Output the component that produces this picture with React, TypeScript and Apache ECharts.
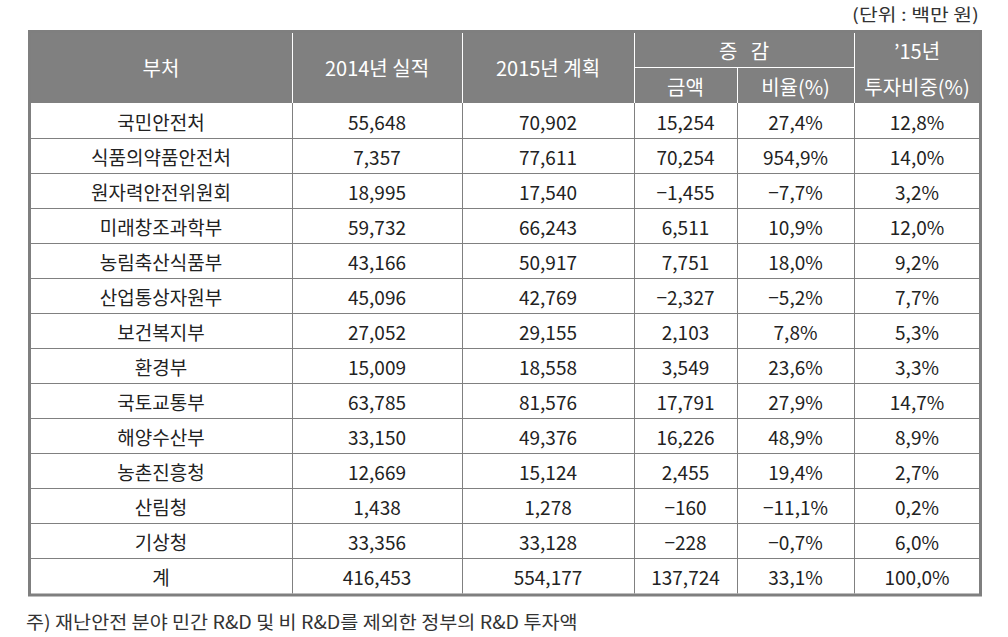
import React, { useEffect, useRef } from "react";
import * as echarts from "echarts";

const depts = ["국민안전처", "식품의약품안전처", "원자력안전위원회", "미래창조과학부", "농림축산식품부", "산업통상자원부", "보건복지부", "환경부", "국토교통부", "해양수산부", "농촌진흥청", "산림청", "기상청", "계"];
const actual2014 = [55648, 7357, 18995, 59732, 43166, 45096, 27052, 15009, 63785, 33150, 12669, 1438, 33356, 416453];
const plan2015 = [70902, 77611, 17540, 66243, 50917, 42769, 29155, 18558, 81576, 49376, 15124, 1278, 33128, 554177];
const diffAmount = [15254, 70254, -1455, 6511, 7751, -2327, 2103, 3549, 17791, 16226, 2455, -160, -228, 137724];
const diffRate = [27.4, 954.9, -7.7, 10.9, 18.0, -5.2, 7.8, 23.6, 27.9, 48.9, 19.4, -11.1, -0.7, 33.1];
const share2015 = [12.8, 14.0, 3.2, 12.0, 9.2, 7.7, 5.3, 3.3, 14.7, 8.9, 2.7, 0.2, 6.0, 100.0];

const unitText = "(단위 : 백만 원)";
const footnote = "주) 재난안전 분야 민간 R&D 및 비 R&D를 제외한 정부의 R&D 투자액";

const MINUS = "\u2212";
const fmtInt = (v: number) => (v < 0 ? MINUS : "") + Math.abs(v).toLocaleString("en-US");
const fmtPct = (v: number) => (v < 0 ? MINUS : "") + Math.abs(v).toFixed(1).replace(".", ",") + "%";

// column edges in table units (table spans 0..950)
const EDGES = [0, 262, 432, 604, 707, 824, 950];
const FONT = "Noto Sans CJK KR";
const LINE = "#808080";

export default function App() {
  const ref = useRef<HTMLDivElement>(null);
  useEffect(() => {
    document.body.style.margin = "0";
    const chart = echarts.init(ref.current!, null, { renderer: "svg" });
    const L = 30, R = 980, T = 31, HB = 103, B = 595;
    const colX = (k: number) => L + EDGES[k];
    const cx = (k: number) => (colX(k) + colX(k + 1)) / 2;
    const hdrText = (text: string, x: number, y: number) => ({
      type: "text", x, y, z: 10,
      style: { text, fill: "#ffffff", fontSize: 20, fontFamily: FONT, align: "center", verticalAlign: "middle" },
    });
    const wline = (x1: number, y1: number, x2: number, y2: number) => ({
      type: "line", z: 5, shape: { x1, y1, x2, y2 }, style: { stroke: "#ffffff", lineWidth: 1 },
    });
    const midH = (T + HB) / 2;
    const topSub = (T + 67) / 2 + 1;
    const botSub = (67 + HB) / 2 + 1;
    const graphic: any[] = [
      { type: "rect", z: 1, shape: { x: 28, y: T, width: 954, height: HB - T }, style: { fill: "#808080" } },
      wline(colX(1) + 0.5, T + 2, colX(1) + 0.5, HB),
      wline(colX(2) + 0.5, T + 2, colX(2) + 0.5, HB),
      wline(colX(3) + 0.5, T + 2, colX(3) + 0.5, HB),
      wline(colX(5) + 0.5, T + 2, colX(5) + 0.5, HB),
      wline(colX(4) + 0.5, 67, colX(4) + 0.5, HB),
      wline(colX(3), 67.5, colX(5), 67.5),
      hdrText("부처", cx(0), midH),
      hdrText("2014년 실적", cx(1), midH),
      hdrText("2015년 계획", cx(2), midH),
      hdrText("증   감", (colX(3) + colX(5)) / 2, topSub),
      hdrText("금액", cx(3), botSub),
      hdrText("비율(%)", cx(4), botSub),
      hdrText("\u201915년", cx(5), topSub),
      hdrText("투자비중(%)", cx(5), botSub),
      {
        type: "rect", z: 20,
        shape: { x: 29.5, y: T + 0.5, width: 951, height: B - T - 0.5 },
        style: { fill: "none", stroke: "#7f7f7f", lineWidth: 3 },
      },
      {
        type: "text", x: 979, y: 13, scaleX: 1.2,
        style: { text: unitText, fill: "#333333", fontSize: 17, fontFamily: FONT, align: "right", verticalAlign: "middle" },
      },
      {
        type: "text", x: 26, y: 621, scaleX: 1.09,
        style: { text: footnote, fill: "#333333", fontSize: 18, fontFamily: FONT, align: "left", verticalAlign: "middle" },
      },
    ];

    const n = depts.length;
    chart.setOption({
      animation: false,
      grid: { left: L, right: 1008 - R, top: HB, bottom: 637 - B + 1.5 },
      xAxis: { type: "value", min: 0, max: 950, show: false },
      yAxis: { type: "category", data: depts, inverse: true, show: false, boundaryGap: true },
      graphic,
      series: [
        {
          type: "custom",
          encode: { x: 0, y: 1 },
          data: depts.map((_, i) => [950, i]),
          renderItem: (params: any, api: any) => {
            const i = api.value(1);
            const center = api.coord([0, i]);
            const h = api.size([0, 1])[1];
            const top = center[1] - h / 2;
            const bot = center[1] + h / 2;
            const px = (e: number) => api.coord([e, i])[0];
            const cells = [
              depts[i],
              fmtInt(actual2014[i]),
              fmtInt(plan2015[i]),
              fmtInt(diffAmount[i]),
              fmtPct(diffRate[i]),
              fmtPct(share2015[i]),
            ];
            const children: any[] = [];
            cells.forEach((t, k) => {
              children.push({
                type: "text",
                x: (px(EDGES[k]) + px(EDGES[k + 1])) / 2,
                y: center[1] + 1,
                style: { text: t, fill: "#222222", fontSize: 19, fontFamily: FONT, align: "center", verticalAlign: "middle" },
              });
            });
            for (let k = 1; k < EDGES.length - 1; k++) {
              const x = Math.round(px(EDGES[k])) + 0.5;
              children.push({ type: "line", shape: { x1: x, y1: top, x2: x, y2: bot }, style: { stroke: LINE, lineWidth: 1 } });
            }
            if (i < n - 1) {
              const y = Math.round(bot) + 0.5;
              children.push({ type: "line", shape: { x1: px(0), y1: y, x2: px(950), y2: y }, style: { stroke: LINE, lineWidth: 1 } });
            }
            return { type: "group", children };
          },
        },
      ],
    });
    return () => chart.dispose();
  }, []);
  return <div ref={ref} style={{ width: 1008, height: 637 }} />;
}
